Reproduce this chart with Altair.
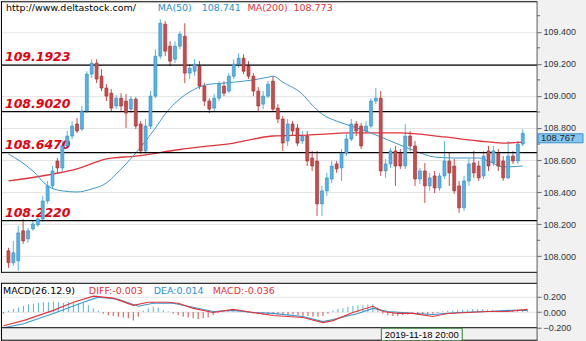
import altair as alt
import pandas as pd

# ---------------- data ----------------
opens = [108.034, 107.960, 107.972, 108.159, 108.109, 108.171, 108.196, 108.233, 108.345, 108.439,
         108.594, 108.551, 108.688, 108.750, 108.825, 108.793, 108.905, 109.136, 109.204, 109.123,
         109.049, 109.017, 108.937, 108.986, 108.968, 108.918, 108.980, 108.825, 108.657, 108.812,
         108.999, 109.248, 109.447, 109.310, 109.229, 109.310, 109.372, 109.142, 109.154, 109.186,
         109.061, 108.968, 108.924, 108.986, 109.061, 109.030, 109.123, 109.198, 109.235, 109.186,
         109.123, 109.030, 108.949, 108.999, 109.092, 108.924, 108.856, 108.719, 108.825, 108.800,
         108.719, 108.750, 108.613, 108.594, 108.327, 108.408, 108.482, 108.576, 108.551, 108.644,
         108.731, 108.825, 108.812, 108.781, 108.812, 108.968, 108.986, 108.532, 108.576, 108.657,
         108.644, 108.563, 108.750, 108.688, 108.482, 108.532, 108.439, 108.501, 108.426, 108.501,
         108.594, 108.563, 108.439, 108.302, 108.470, 108.582, 108.563, 108.501, 108.657, 108.582,
         108.644, 108.594, 108.489, 108.625, 108.594, 108.700]
closes = [107.960, 108.022, 108.146, 108.096, 108.159, 108.202, 108.233, 108.345, 108.439, 108.532,
          108.551, 108.688, 108.750, 108.812, 108.781, 108.905, 109.136, 109.204, 109.105, 109.049,
          108.999, 108.924, 108.986, 108.937, 108.893, 108.980, 108.812, 108.657, 108.812, 108.999,
          109.248, 109.453, 109.279, 109.217, 109.310, 109.385, 109.142, 109.173, 109.198, 109.061,
          108.968, 108.918, 108.986, 109.073, 109.017, 109.123, 109.198, 109.235, 109.154, 109.123,
          109.030, 108.937, 108.999, 109.073, 108.918, 108.856, 108.706, 108.825, 108.781, 108.706,
          108.750, 108.594, 108.563, 108.327, 108.408, 108.489, 108.563, 108.545, 108.644, 108.731,
          108.825, 108.781, 108.688, 108.812, 108.968, 108.986, 108.532, 108.576, 108.657, 108.563,
          108.563, 108.750, 108.688, 108.482, 108.532, 108.439, 108.489, 108.426, 108.501, 108.594,
          108.520, 108.408, 108.302, 108.470, 108.576, 108.520, 108.489, 108.625, 108.563, 108.657,
          108.563, 108.489, 108.625, 108.594, 108.700, 108.767]
highs = [108.053, 108.096, 108.190, 108.233, 108.177, 108.221, 108.252, 108.377, 108.470, 108.563,
         108.613, 108.719, 108.781, 108.843, 108.862, 108.937, 109.154, 109.229, 109.229, 109.167,
         109.073, 109.042, 109.005, 109.017, 109.011, 108.999, 108.993, 108.843, 108.856, 109.030,
         109.291, 109.478, 109.466, 109.341, 109.341, 109.403, 109.453, 109.198, 109.229, 109.217,
         109.080, 108.986, 109.011, 109.092, 109.092, 109.142, 109.229, 109.266, 109.260, 109.217,
         109.142, 109.055, 109.030, 109.092, 109.123, 108.949, 108.874, 108.856, 108.843, 108.825,
         108.781, 108.781, 108.657, 108.657, 108.439, 108.520, 108.594, 108.594, 108.669, 108.762,
         108.856, 108.843, 108.831, 108.843, 108.986, 109.049, 109.030, 108.607, 108.675, 108.688,
         108.669, 108.825, 108.781, 108.719, 108.551, 108.582, 108.520, 108.532, 108.520, 108.719,
         108.644, 108.607, 108.470, 108.501, 108.607, 108.657, 108.594, 108.657, 108.688, 108.688,
         108.669, 108.625, 108.719, 108.657, 108.719, 108.793]
lows = [107.928, 107.941, 107.910, 108.078, 108.084, 108.159, 108.184, 108.215, 108.327, 108.420,
        108.520, 108.532, 108.675, 108.731, 108.769, 108.781, 108.893, 109.111, 109.080, 109.030,
        108.968, 108.905, 108.918, 108.905, 108.800, 108.893, 108.793, 108.638, 108.638, 108.793,
        108.986, 109.229, 109.248, 109.186, 109.204, 109.291, 109.080, 109.105, 109.123, 109.042,
        108.937, 108.893, 108.899, 108.968, 108.999, 109.017, 109.105, 109.173, 109.136, 109.105,
        108.999, 108.905, 108.918, 108.986, 108.905, 108.831, 108.657, 108.688, 108.750, 108.688,
        108.700, 108.563, 108.532, 108.252, 108.252, 108.377, 108.457, 108.520, 108.470, 108.625,
        108.719, 108.750, 108.669, 108.769, 108.800, 108.949, 108.501, 108.489, 108.551, 108.439,
        108.545, 108.545, 108.657, 108.439, 108.451, 108.333, 108.408, 108.395, 108.408, 108.482,
        108.439, 108.389, 108.271, 108.283, 108.439, 108.489, 108.470, 108.482, 108.532, 108.563,
        108.532, 108.470, 108.482, 108.576, 108.576, 108.688]

ma50_idx = [0, 5, 8, 11, 14, 17, 20, 22, 24, 26, 28, 30, 32, 34, 36, 38, 41, 44, 48, 51,
            53, 54, 56, 60, 62, 64, 67, 70, 73, 79, 83, 87, 91, 96, 98, 101, 105]
ma50_val = [108.638, 108.532, 108.439, 108.408, 108.401, 108.420, 108.457, 108.513, 108.576, 108.644,
            108.719, 108.800, 108.887, 108.955, 109.005, 109.042, 109.073, 109.080, 109.092, 109.105,
            109.117, 109.123, 109.086, 109.011, 108.943, 108.887, 108.843, 108.812, 108.781, 108.706,
            108.657, 108.619, 108.613, 108.613, 108.594, 108.557, 108.563]
ma200_idx = [0, 8, 14, 20, 26, 35, 41, 46, 50, 54, 61, 70, 80, 89, 96, 101, 105]
ma200_val = [108.470, 108.507, 108.545, 108.607, 108.625, 108.666, 108.688, 108.706, 108.731, 108.750,
             108.756, 108.769, 108.769, 108.744, 108.719, 108.706, 108.712]

diff_idx = [0, 4, 10, 14, 18, 22, 26, 29, 33, 35, 38, 42, 46, 50, 54, 60, 64, 66, 70, 74,
            76, 79, 82, 86, 89, 93, 97, 101, 105]
diff_val = [-0.177, -0.111, 0.023, 0.129, 0.209, 0.183, 0.089, 0.129, 0.129, 0.116, 0.049, -0.004,
            0.036, -0.004, -0.044, -0.071, -0.137, -0.111, -0.004, 0.076, 0.009, -0.017, -0.017,
            -0.057, -0.017, -0.004, 0.009, 0.009, 0.036]
dea_idx = [0, 4, 10, 16, 19, 23, 27, 30, 34, 38, 42, 46, 50, 54, 60, 64, 66, 71, 74, 77,
           82, 86, 91, 97, 101, 105]
dea_val = [-0.204, -0.151, -0.017, 0.129, 0.196, 0.169, 0.076, 0.116, 0.116, 0.063, 0.009, 0.023,
           -0.004, -0.017, -0.057, -0.124, -0.097, -0.017, 0.049, 0.009, -0.017, -0.031, -0.004,
           0.009, 0.023, 0.023]
hist_val = [-0.02, 0.02, 0.04, 0.06, 0.08, 0.10, 0.11, 0.12, 0.13, 0.13,
            0.14, 0.13, 0.12, 0.13, 0.12, 0.11, 0.12, 0.09, 0.05, 0.02,
            -0.02, -0.04, -0.05, -0.06, -0.07, -0.08, -0.11, -0.06, 0.02, 0.05,
            0.07, 0.06, 0.03, 0.01, -0.02, -0.04, -0.06, -0.07, -0.08, -0.09,
            -0.08, -0.07, -0.04, -0.01, 0.01, 0.02, 0.03, 0.02, 0.01, -0.01,
            -0.02, -0.03, -0.03, -0.03, -0.03, -0.03, -0.04, -0.04, -0.03, -0.04,
            -0.05, -0.05, -0.06, -0.06, -0.05, -0.02, 0.02, 0.04, 0.05, 0.07,
            0.08, 0.09, 0.09, 0.10, 0.10, 0.06, -0.02, -0.04, -0.05, -0.05,
            -0.04, -0.03, -0.02, -0.02, -0.03, -0.03, -0.02, -0.01, 0.01, 0.02,
            0.02, 0.03, 0.03, 0.03, 0.04, 0.04, 0.04, 0.03, 0.03, 0.02,
            0.02, 0.01, 0.02, 0.03, 0.03, 0.02]

sr_levels = [109.1923, 108.9020, 108.6470, 108.2220]
price_ticks = [108.0, 108.2, 108.4, 108.6, 108.8, 109.0, 109.2, 109.4]
price_minor = [108.1, 108.3, 108.5, 108.7, 108.9, 109.1, 109.3, 109.5]
macd_ticks = [-0.2, 0.0, 0.2]
last_price = 108.767

site_text = "http://www.deltastock.com/"
ma50_text = ["MA(50)", "108.741"]
ma200_text = ["MA(200)", "108.773"]
macd_title = "MACD(26.12.9)"
diff_text = "DIFF:-0.003"
dea_text = "DEA:0.014"
macd_text = "MACD:-0.036"
date_text = "2019-11-18 20:00"

# ---------------- styling ----------------
W = 537          # plot width
HM = 272         # main panel height
HD = 45          # MACD panel height
BLUE = "#56b3e4"
RED = "#c84c4b"
BLUE_S = "#2d8cc8"
RED_S = "#a32d2d"
MA_BLUE = "#2a8fcf"
MA_RED = "#e0343a"
FONT = "DejaVu Sans"
AXFONT = "Liberation Sans"

idx = list(range(len(opens)))
candles = pd.DataFrame({"i": idx, "o": opens, "h": highs, "l": lows, "c": closes})
candles["dir"] = ["up" if c >= o else "down" for o, c in zip(opens, closes)]

xs = alt.Scale(domain=[-0.5, 106.9], nice=False, zero=False)
ps = alt.Scale(domain=[107.897, 109.590], nice=False, zero=False)
ms = alt.Scale(domain=[-0.204, 0.383], nice=False, zero=False)
cscale = alt.Scale(domain=["up", "down"], range=[BLUE, RED])
sscale = alt.Scale(domain=["up", "down"], range=[BLUE_S, RED_S])

X = alt.X("i:Q", scale=xs, axis=None)


def make_axis(vals):
    return alt.Axis(orient="right", values=vals, format=".3f", grid=True,
                    gridColor="#e3e3e3", domain=False, tickSize=4, tickColor="#666",
                    labelFont=AXFONT, labelFontSize=9, labelColor="#333",
                    labelPadding=2, title=None, minExtent=49, maxExtent=49)


price_axis = make_axis(price_ticks)
macd_axis = make_axis(macd_ticks)


def PY(field):
    return alt.Y(field, type="quantitative", scale=ps, axis=price_axis)


def MY(field):
    return alt.Y(field, type="quantitative", scale=ms, axis=macd_axis)


one = pd.DataFrame({"a": [0]})


def vrect(x1, x2, y1, y2, fill, stroke=None):
    kw = dict(fill=fill)
    if stroke:
        kw.update(stroke=stroke, strokeWidth=1)
    return alt.Chart(one).mark_rect(**kw).encode(
        x=alt.value(x1), x2=alt.value(x2), y=alt.value(y1), y2=alt.value(y2))


def hrule(y, x1, x2, color="black", sw=1):
    return alt.Chart(one).mark_rule(color=color, strokeWidth=sw).encode(
        x=alt.value(x1), x2=alt.value(x2), y=alt.value(y))


def vrule(x, y1, y2, color="black", sw=1):
    return alt.Chart(one).mark_rule(color=color, strokeWidth=sw).encode(
        x=alt.value(x), y=alt.value(y1), y2=alt.value(y2))


def label(x, y, txt, color="black", size=9.5, align="left", font=FONT):
    return alt.Chart(one).mark_text(align=align, baseline="middle", font=font,
                                    fontSize=size, color=color).encode(
        x=alt.value(x), y=alt.value(y), text=alt.value(txt))


# ---------------- price panel ----------------
wicks = alt.Chart(candles).mark_rule(strokeWidth=1).encode(
    x=X, y=PY("l"), y2="h:Q",
    color=alt.Color("dir:N", scale=cscale, legend=None))
bodies = alt.Chart(candles).mark_bar(size=3.0, strokeWidth=0.6).encode(
    x=X, y=PY("o"), y2="c:Q",
    color=alt.Color("dir:N", scale=cscale, legend=None),
    stroke=alt.Stroke("dir:N", scale=sscale, legend=None))

ma50 = alt.Chart(pd.DataFrame({"i": ma50_idx, "v": ma50_val})).mark_line(
    color="#3f96c8", strokeWidth=1, interpolate="monotone").encode(x=X, y=PY("v"))
ma200 = alt.Chart(pd.DataFrame({"i": ma200_idx, "v": ma200_val})).mark_line(
    color=MA_RED, strokeWidth=1.3, interpolate="monotone").encode(x=X, y=PY("v"))

sr = pd.DataFrame({"v": sr_levels, "t": [f"{v:.4f}" for v in sr_levels]})
sr_rules = alt.Chart(sr).mark_rule(color="black", strokeWidth=1.3).encode(
    y=PY("v"), x=alt.value(0), x2=alt.value(W))
sr_text = alt.Chart(sr).mark_text(align="left", baseline="alphabetic", dy=-4, font=FONT,
                                  fontSize=12.5, fontWeight="bold", fontStyle="italic",
                                  color="#e3000f").encode(
    y=PY("v"), x=alt.value(4), text="t:N")

minor = alt.Chart(pd.DataFrame({"v": price_minor})).mark_rule(color="#666").encode(
    y=PY("v"), x=alt.value(W), x2=alt.value(W + 3))

tag_df = pd.DataFrame({"v": [last_price], "t": [f"{last_price:.3f}"]})
tag_rect = alt.Chart(tag_df).transform_calculate(
    top="datum.v + 0.028", bot="datum.v - 0.028").mark_rect(
    fill="#86c7ee", stroke="#3a8fd0", strokeWidth=1, yOffset=5, y2Offset=5).encode(
    y=PY("top"), y2="bot:Q", x=alt.value(W + 1), x2=alt.value(W + 46))
tag_text = alt.Chart(tag_df).mark_text(align="left", baseline="middle", dy=5,
                                       font=AXFONT, fontSize=9.5, color="#222").encode(
    y=PY("v"), x=alt.value(W + 4), text="t:N")

main_frame = alt.layer(
    hrule(0.5, 0, W), hrule(HM - 0.5, 0, W),
    vrule(0.5, 0, HM), vrule(W, 0, HM + 10, color="#555"),
    label(5, 7, site_text),
    label(157, 7, ma50_text[0], color=MA_BLUE),
    label(201, 7, ma50_text[1], color=MA_BLUE),
    label(247, 7, ma200_text[0], color=MA_RED),
    label(293, 7, ma200_text[1], color=MA_RED),
)

main = alt.layer(wicks, ma200, ma50, sr_rules, sr_text, bodies, minor,
                 tag_rect, tag_text, main_frame).properties(width=W, height=HM)

# ---------------- MACD panel ----------------
hist_df = pd.DataFrame({"i": idx, "v": hist_val, "z": [0.0] * len(idx)})
hist_df["dir"] = ["up" if v >= 0 else "down" for v in hist_val]
hist = alt.Chart(hist_df).mark_rule(strokeWidth=1).encode(
    x=X, y=MY("v"), y2="z:Q",
    color=alt.Color("dir:N", scale=cscale, legend=None))
diff_line = alt.Chart(pd.DataFrame({"i": diff_idx, "v": diff_val})).mark_line(
    color=MA_RED, strokeWidth=1.1).encode(x=X, y=MY("v"))
dea_line = alt.Chart(pd.DataFrame({"i": dea_idx, "v": dea_val})).mark_line(
    color="#3a98d0", strokeWidth=1.1).encode(x=X, y=MY("v"))

macd_frame = alt.layer(
    vrect(0, W, HD, HD + 14, "#f1f1f1"),
    hrule(0.5, 0, W), hrule(HD, 0, W), hrule(HD + 12.5, 0, W),
    vrule(0.5, 0, HD + 14), vrule(W, 0, HD + 14, color="#555"),
    label(2, 8, macd_title),
    label(88, 8, diff_text, color=MA_RED),
    label(153, 8, dea_text, color=MA_BLUE),
    label(212, 8, macd_text, color=MA_RED),
    vrect(381, 462, HD + 0.5, HD + 13, "#f6f6f6", stroke="#2e7d32"),
    label(421.5, HD + 7, date_text, align="center", font=AXFONT, size=9.5),
)

macd = alt.layer(hist, dea_line, diff_line, macd_frame).properties(width=W, height=HD)

chart = alt.vconcat(main, macd, spacing=10, bounds="flush").properties(
    padding={"left": 0, "top": 0, "right": 0, "bottom": 0},
    background="#f1f1f1",
).configure_view(fill="white", strokeOpacity=0)

chart.save("out.html", embed_options={"renderer": "svg", "actions": False})
